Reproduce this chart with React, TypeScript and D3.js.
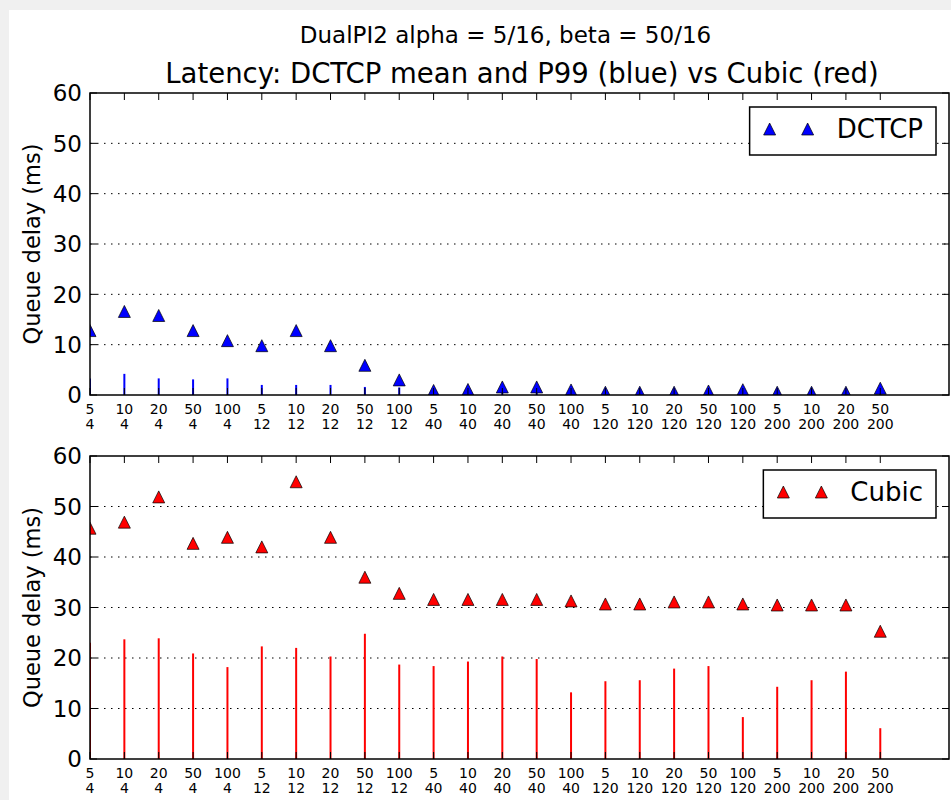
import React, { useEffect, useRef } from "react";
import * as d3 from "d3";

// ---- data ----
const rateLabels = ["5","10","20","50","100","5","10","20","50","100","5","10","20","50","100","5","10","20","50","100","5","10","20","50"];
const rttLabels = ["4","4","4","4","4","12","12","12","12","12","40","40","40","40","40","120","120","120","120","120","200","200","200","200"];

const dctcpMarkers = [12.8, 16.6, 15.8, 12.8, 10.8, 9.8, 12.8, 9.8, 5.9, 3.0, 0.9, 1.1, 1.6, 1.6, 1.0, 0.55, 0.55, 0.55, 0.8, 1.05, 0.55, 0.55, 0.55, 1.35];
const dctcpStems = [3.3, 4.2, 3.3, 3.1, 3.3, 2.0, 2.0, 2.0, 1.6, 1.5, 1.0, 1.0, 1.2, 1.2, 0.8, 0.5, 0.5, 0.5, 0.6, 0.8, 0.5, 0.5, 0.5, 1.0];

const cubicMarkers = [45.7, 46.9, 51.9, 42.7, 43.9, 42.0, 54.9, 43.9, 36.0, 32.8, 31.6, 31.6, 31.6, 31.6, 31.3, 30.7, 30.7, 31.1, 31.1, 30.7, 30.5, 30.5, 30.5, 25.3];
const cubicStems = [23.0, 23.7, 23.9, 20.9, 18.2, 22.3, 22.0, 20.3, 24.8, 18.7, 18.4, 19.3, 20.3, 19.8, 13.2, 15.4, 15.6, 17.9, 18.4, 8.3, 14.3, 15.6, 17.3, 6.1];

const yTicks = [0, 10, 20, 30, 40, 50, 60];

const suptitle = "DualPI2 alpha = 5/16, beta = 50/16";
const title = "Latency: DCTCP mean and P99 (blue) vs Cubic (red)";
const yLabel = "Queue delay (ms)";

const W = 951;
const H = 800;
const FONT = "DejaVu Sans, sans-serif";

export default function App() {
  const ref = useRef<SVGSVGElement | null>(null);

  useEffect(() => {
    const svg = d3.select(ref.current);
    svg.selectAll("*").remove();

    svg.append("rect").attr("width", W).attr("height", H).attr("fill", "#f0f0f0");
    svg.append("rect").attr("x", 9).attr("y", 10).attr("width", W - 9).attr("height", H - 10).attr("fill", "#ffffff");

    svg.append("text")
      .attr("x", 505.5).attr("y", 43)
      .attr("text-anchor", "middle")
      .attr("font-family", FONT).attr("font-size", 23)
      .text(suptitle);

    const left = 90, right = 949;
    const x = d3.scaleLinear().domain([0, 25]).range([left, right]);

    const panels = [
      { top: 93, bottom: 395, markers: dctcpMarkers, stems: dctcpStems, color: "#0000ff", name: "DCTCP", title: title, legendTop: 107 },
      { top: 456, bottom: 759, markers: cubicMarkers, stems: cubicStems, color: "#ff0000", name: "Cubic", title: null, legendTop: 470 },
    ];

    const tri = (s: number) => `M0,${-s / 2}L${s / 2},${s / 2}L${-s / 2},${s / 2}Z`;

    panels.forEach((p, pi) => {
      const y = d3.scaleLinear().domain([0, 60]).range([p.bottom, p.top]);
      const g = svg.append("g");
      const clipId = `clip${pi}`;
      svg.append("clipPath").attr("id", clipId)
        .append("rect").attr("x", left).attr("y", p.top).attr("width", right - left).attr("height", p.bottom - p.top);

      if (p.title) {
        g.append("text")
          .attr("x", 522).attr("y", 83)
          .attr("text-anchor", "middle")
          .attr("font-family", FONT).attr("font-size", 27.5)
          .text(p.title);
      }

      // grid
      g.selectAll(".grid").data(yTicks.filter(v => v > 0 && v < 60)).enter().append("line")
        .attr("x1", left).attr("x2", right)
        .attr("y1", d => y(d)).attr("y2", d => y(d))
        .attr("stroke", "#000").attr("stroke-width", 1).attr("stroke-dasharray", "1.5,5.5");

      const plot = g.append("g").attr("clip-path", `url(#${clipId})`);
      plot.selectAll(".stem").data(p.stems).enter().append("line")
        .attr("x1", (_d, i) => x(i)).attr("x2", (_d, i) => x(i))
        .attr("y1", y(0)).attr("y2", d => y(d))
        .attr("stroke", p.color).attr("stroke-width", 2);
      plot.selectAll(".mk").data(p.markers).enter().append("path")
        .attr("d", tri(12))
        .attr("transform", (d, i) => `translate(${x(i)},${y(d)})`)
        .attr("fill", p.color).attr("stroke", "#000").attr("stroke-width", 0.7);

      // frame
      g.append("rect").attr("x", left).attr("y", p.top).attr("width", right - left).attr("height", p.bottom - p.top)
        .attr("fill", "none").attr("stroke", "#000").attr("stroke-width", 1.5);

      // x ticks
      rateLabels.forEach((lab, i) => {
        const xi = x(i);
        g.append("line").attr("x1", xi).attr("x2", xi).attr("y1", p.bottom).attr("y2", p.bottom - 7).attr("stroke", "#000").attr("stroke-width", 1);
        g.append("line").attr("x1", xi).attr("x2", xi).attr("y1", p.top).attr("y2", p.top + 7).attr("stroke", "#000").attr("stroke-width", 1);
        const t = g.append("text").attr("text-anchor", "middle").attr("font-family", FONT).attr("font-size", 14);
        t.append("tspan").attr("x", xi).attr("y", p.bottom + 19).text(lab);
        t.append("tspan").attr("x", xi).attr("y", p.bottom + 34).text(rttLabels[i]);
      });

      // y ticks
      yTicks.forEach(v => {
        g.append("line").attr("x1", left).attr("x2", left + 7).attr("y1", y(v)).attr("y2", y(v)).attr("stroke", "#000").attr("stroke-width", 1);
        g.append("line").attr("x1", right).attr("x2", right - 7).attr("y1", y(v)).attr("y2", y(v)).attr("stroke", "#000").attr("stroke-width", 1);
        g.append("text").attr("x", left - 8).attr("y", y(v)).attr("dy", "0.36em")
          .attr("text-anchor", "end").attr("font-family", FONT).attr("font-size", 23)
          .text(String(v));
      });

      // y label
      g.append("text")
        .attr("transform", `translate(40,${(p.top + p.bottom) / 2}) rotate(-90)`)
        .attr("text-anchor", "middle").attr("font-family", FONT).attr("font-size", 22.5)
        .text(yLabel);

      // legend
      const lg = g.append("g");
      const box = lg.append("rect").attr("fill", "#fff").attr("stroke", "#000").attr("stroke-width", 1.5);
      const txt = lg.append("text").attr("font-family", FONT).attr("font-size", 26).text(p.name);
      const tw = (txt.node() as SVGTextElement).getComputedTextLength();
      const boxRight = right - 13;
      const textStart = boxRight - 13 - tw;
      const cy = p.legendTop + 22;
      txt.attr("x", textStart).attr("y", cy + 9);
      const t1 = textStart - 67, t2 = textStart - 29;
      const boxLeft = t1 - 20;
      box.attr("x", boxLeft).attr("y", p.legendTop).attr("width", boxRight - boxLeft).attr("height", 48);
      [t1, t2].forEach(tx => {
        lg.append("path").attr("d", tri(12)).attr("transform", `translate(${tx},${cy})`)
          .attr("fill", p.color).attr("stroke", "#000").attr("stroke-width", 0.7);
      });
    });
  }, []);

  return (
    <svg ref={ref} width={W} height={H} style={{ position: "absolute", left: 0, top: 0 }} />
  );
}
